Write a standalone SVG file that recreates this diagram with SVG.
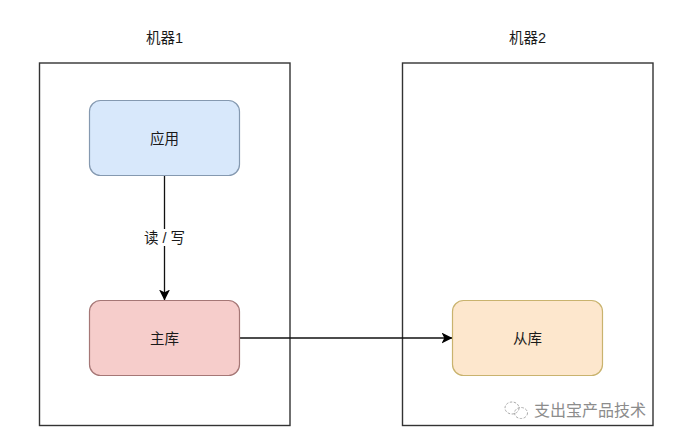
<svg xmlns="http://www.w3.org/2000/svg" width="677" height="441" viewBox="0 0 677 441">
<defs>
<marker id="arrow" markerUnits="userSpaceOnUse" markerWidth="12" markerHeight="12" refX="10.5" refY="5.5" orient="auto">
<path d="M0 0L11 5.5L0 11L2.8 5.5Z" fill="#000"/>
</marker>
</defs>
<style>
text{font-family:"Liberation Sans","Noto Sans CJK SC",sans-serif;font-size:14.500px;text-anchor:middle;fill:#1a1a1a}
.box{fill:#fff;stroke:#333;stroke-width:1.4}
.n{stroke-width:1.2}
.c{fill:none;stroke:#111;stroke-width:1.3;marker-end:url(#arrow)}
</style>
<rect width="677" height="441" fill="#fff"/>
<g id="machine1">
<rect class="box" x="39.500" y="63" width="250.500" height="362.500"/>
<text x="164.500" y="42.500">机器1</text>
</g>
<g id="machine2">
<rect class="box" x="402.500" y="63" width="250.500" height="362.500"/>
<text x="527.500" y="42.500">机器2</text>
</g>
<g id="connectors">
<path class="c" d="M164.500 176V300"/>
<path class="c" d="M240 338H452"/>
</g>
<g id="edge-label">
<rect x="143" y="229" width="43" height="17" fill="#fff"/>
<text x="164.500" y="243">读 / 写</text>
</g>
<g id="app">
<rect class="n" x="89.500" y="100.500" width="150" height="75" rx="11" fill="#d8e8fb" stroke="#8599b0"/>
<text x="164.500" y="143.500">应用</text>
</g>
<g id="master">
<rect class="n" x="89.500" y="300.500" width="150" height="75" rx="11" fill="#f6cdcb" stroke="#a57776"/>
<text x="164.500" y="343.500">主库</text>
</g>
<g id="slave">
<rect class="n" x="452.500" y="300.500" width="150" height="75" rx="11" fill="#fde7cd" stroke="#c9b36e"/>
<text x="527.500" y="343.500">从库</text>
</g>
<g id="watermark" fill="none" stroke="#aaa" stroke-width="1" stroke-dasharray="2.500 1.500">
<ellipse cx="512" cy="408" rx="7" ry="6"/>
<ellipse cx="521" cy="413" rx="6.500" ry="5.500"/>
<text x="590" y="415.500" style="font-size:16px;fill:#8c8c8c;stroke:none">支出宝产品技术</text>
</g>
</svg>
